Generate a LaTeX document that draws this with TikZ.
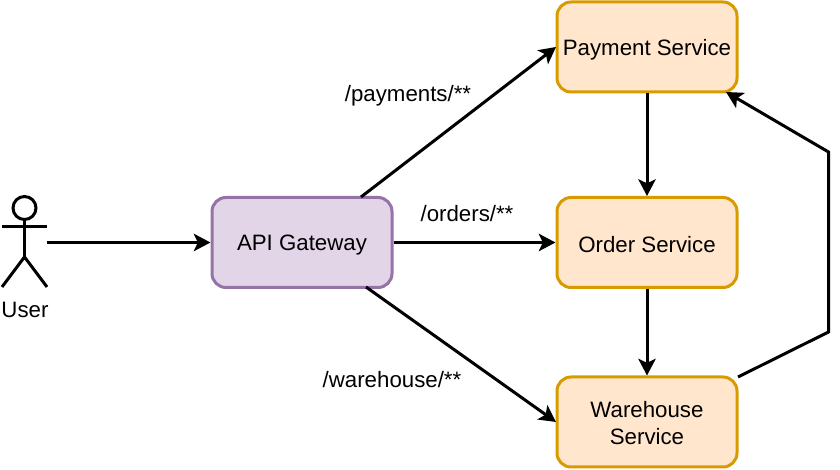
\documentclass[tikz,border=0pt]{standalone}
\usepackage{fontspec}
\setmainfont{Liberation Sans}
\usetikzlibrary{arrows.meta}
\newcommand{\lowerby}[1]{\rule{0pt}{#1}}
\tikzset{
 x=0.75pt,y=-0.75pt,
 svc/.style={draw=svcline,fill=svcfill,line width=2.25pt,rounded corners=10.5pt,minimum width=135pt,minimum height=67.5pt,inner sep=0pt,align=center,font=\fontsize{16.7pt}{20pt}\selectfont},
 gw/.style={svc,draw=gwline,fill=gwfill},
 conn/.style={line width=2.25pt,-{Stealth[length=12.5pt,width=13pt,inset=3pt]}},
 lbl/.style={inner sep=0pt,font=\fontsize{16.7pt}{20pt}\selectfont},
 fig/.style={line width=2.25pt}
}
\definecolor{svcline}{HTML}{D79B00}
\definecolor{svcfill}{HTML}{FFE6CC}
\definecolor{gwline}{HTML}{9673A6}
\definecolor{gwfill}{HTML}{E1D5E7}
\begin{document}
\begin{tikzpicture}
\useasboundingbox (0,0) rectangle (840,470);
\node[svc] (pay) at (647,47) {\lowerby{16pt}Payment Service};
\node[svc] (ord) at (647,242.5) {\lowerby{15pt}Order Service};
\node[svc] (war) at (647,422) {\lowerby{13.5pt}Warehouse\\Service};
\node[gw] (api) at (302,242.5) {\lowerby{16pt}API Gateway};
\coordinate (usr) at (47,242.5);
\coordinate (bend) at (828.5,332);
\coordinate (bendb) at (828.5,152);
\coordinate (apip) at (361,197);
\coordinate (apiw) at (366,287);
\coordinate (payin) at (556,47);
\coordinate (warin) at (556,422);
\coordinate (warout) at (738,377);
\coordinate (payback) at (726,92);
\draw[conn] (usr) -- (api.west);
\draw[conn] (apip) -- (payin);
\draw[conn] (api.east) -- (ord.west);
\draw[conn] (apiw) -- (warin);
\draw[conn] (pay.south) -- (ord.north);
\draw[conn] (ord.south) -- (war.north);
\draw[conn] (warout) -- (bend) -- (bendb) -- (payback);
\node[lbl] (l1) at (408,95.5) {/payments/**};
\node[lbl] (l2) at (467,214) {/orders/**};
\node[lbl] (l3) at (392,380) {/warehouse/**};
\node[lbl] (u) at (25,310) {User};
\draw[fig] (24.5,208) circle (11.5);
\draw[fig] (24.5,219.5) -- (24.5,257);
\draw[fig] (2,227) -- (47,227);
\draw[fig] (2,287) -- (24.5,257) -- (47,287);
\end{tikzpicture}
\end{document}
